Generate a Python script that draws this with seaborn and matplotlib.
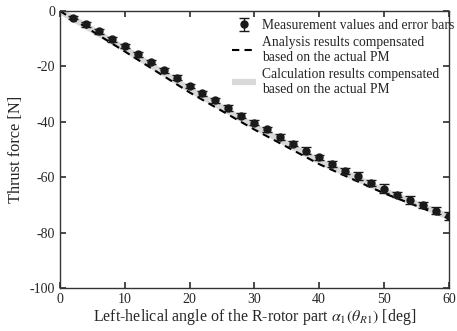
import numpy as np
import pandas as pd
import seaborn as sns
import matplotlib.pyplot as plt

sns.set_theme(style='ticks')
plt.rcParams['font.family'] = ['Liberation Serif', 'DejaVu Serif']
plt.rcParams['mathtext.fontset'] = 'stix'
plt.rcParams['axes.unicode_minus'] = False

# Measured thrust force with error bars.
meas_angle = [2, 4, 6, 8, 10, 12, 14, 16, 18, 20, 22, 24, 26, 28, 30,
              32, 34, 36, 38, 40, 42, 44, 46, 48, 50, 52, 54, 56, 58, 60]
meas_force = [-2.4, -4.9, -7.3, -10.3, -12.7, -15.7, -18.5, -21.4, -24.2, -27.1,
              -29.8, -32.3, -35.0, -37.8, -40.3, -42.8, -45.5, -47.9, -50.4, -52.9,
              -55.3, -57.8, -59.7, -62.1, -64.1, -66.3, -68.3, -70.1, -72.1, -74.0]
meas_err = [0.6, 0.8, 0.9, 0.8, 0.8, 0.8, 0.8, 0.9, 0.9, 0.9,
            0.9, 0.9, 1.0, 1.0, 1.0, 1.0, 1.0, 1.0, 1.2, 1.0,
            1.0, 1.0, 1.5, 1.0, 1.5, 1.0, 1.5, 1.2, 1.2, 1.3]

# Analysis and calculation curves.
curve_angle = [0, 10, 20, 30, 40, 50, 60]
analysis_force = [0, -14.6, -29.4, -42.8, -55.3, -65.8, -74.9]
calc_force = [0, -13.7, -28.3, -41.6, -54.2, -65.0, -74.3]

curves = pd.DataFrame({'angle': curve_angle, 'analysis': analysis_force, 'calc': calc_force})

fig, ax = plt.subplots(figsize=(4.57, 3.31), dpi=100)
fig.subplots_adjust(left=0.131, right=0.982, top=0.967, bottom=0.13)

sns.lineplot(data=curves, x='angle', y='calc', ax=ax, color='#d8d8d8', lw=4.5,
             solid_capstyle='butt',
             label='Calculation results compensated\nbased on the actual PM', zorder=1)
sns.lineplot(data=curves, x='angle', y='analysis', ax=ax, color='black', lw=1.5,
             label='Analysis results compensated\nbased on the actual PM', zorder=2)
ax.lines[-1].set_dashes((3.5, 2.5))
ax.errorbar(meas_angle, meas_force, yerr=meas_err, fmt='o', color='#1a1a1a', ms=5,
            capsize=3.5, elinewidth=1, capthick=1, label='Measurement values and error bars', zorder=3)

ax.set_xlim(0, 60)
ax.set_ylim(-100, 0)
ax.set_xticks([0, 10, 20, 30, 40, 50, 60])
ax.set_yticks([0, -20, -40, -60, -80, -100])
ax.tick_params(direction='in', top=True, right=True, labelsize=10, length=4, color='#333333')
for s in ax.spines.values():
    s.set_linewidth(1.0)
    s.set_color('#333333')
ax.set_xlabel(r'Left-helical angle of the R-rotor part $\alpha_1(\theta_{R1})$ [deg]', fontsize=11.5, labelpad=1)
ax.set_ylabel('Thrust force [N]', fontsize=11.8, labelpad=4)

h, l = ax.get_legend_handles_labels()
order = [2, 1, 0]
leg = ax.legend([h[i] for i in order], [l[i] for i in order], loc='upper right', frameon=False,
                fontsize=9.8, handlelength=1.8, handletextpad=0.4, borderaxespad=0.2,
                labelspacing=0.3, bbox_to_anchor=(1.035, 1.0))
leg.get_lines()[-1].set_solid_capstyle('butt')

plt.savefig('out.png', dpi=100)
